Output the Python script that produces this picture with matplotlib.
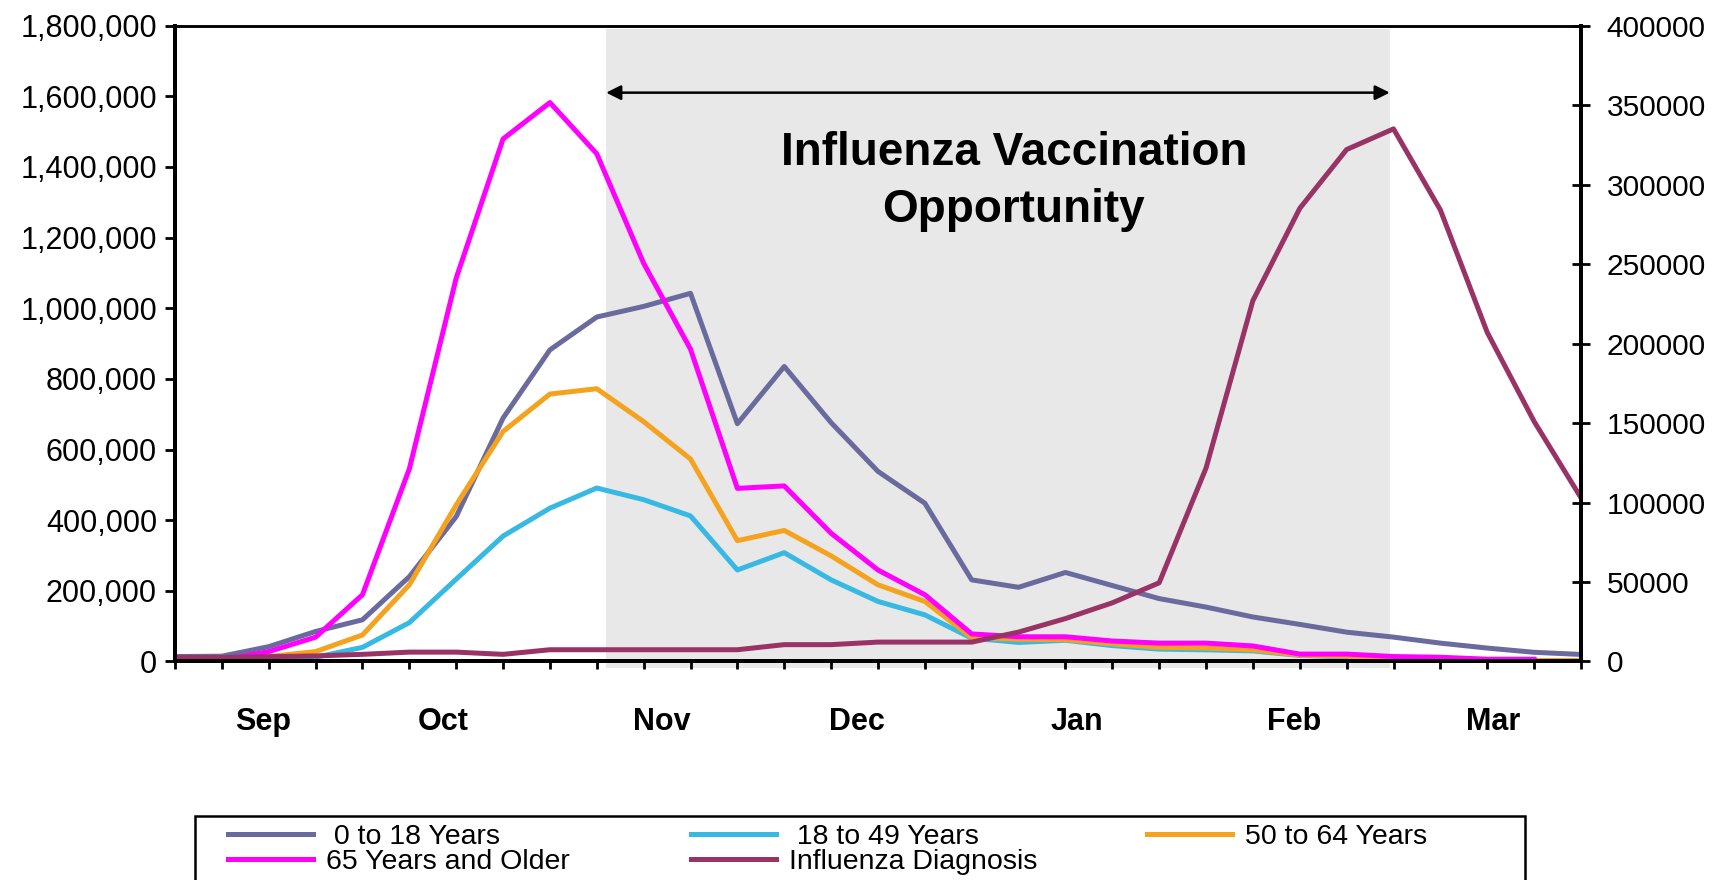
import matplotlib
matplotlib.use("Agg")
import matplotlib.pyplot as plt
from matplotlib.patches import Rectangle
from matplotlib.ticker import FuncFormatter

plt.rcParams['font.family'] = ['Liberation Sans', 'DejaVu Sans']

# weekly points, Sep .. Mar
weeks = list(range(31))
month_labels = ['Sep', 'Oct', 'Nov', 'Dec', 'Jan', 'Feb', 'Mar']
month_pos = [1.87, 5.73, 10.39, 14.56, 19.24, 23.87, 28.13]

age_0_18 = [14000, 15000, 42000, 85000, 118000, 240000, 410000, 689000, 882000, 975000,
            1005000, 1042000, 673000, 835000, 676000, 538000, 448000, 231000, 210000, 252000,
            215000, 178000, 154000, 126000, 105000, 83000, 69000, 52000, 38000, 26000, 20000]
age_18_49 = [0, 0, 4000, 12000, 40000, 110000, 233000, 355000, 434000, 491000,
             458000, 412000, 259000, 308000, 231000, 170000, 132000, 66000, 54000, 60000,
             45000, 35000, 33000, 30000, 17000, 13000, 9000, 6000, 4000, 3000, 2000]
age_50_64 = [0, 2000, 14000, 28000, 75000, 217000, 443000, 651000, 757000, 772000,
             679000, 573000, 342000, 371000, 299000, 217000, 170000, 68000, 63000, 62000,
             50000, 40000, 38000, 33000, 18000, 15000, 10000, 7000, 4000, 3000, 3000]
age_65_up = [3000, 5000, 28000, 69000, 189000, 545000, 1085000, 1479000, 1582000, 1437000,
             1127000, 884000, 490000, 497000, 363000, 259000, 189000, 78000, 70000, 70000,
             58000, 52000, 52000, 44000, 21000, 21000, 14000, 12000, 6500, 6500, float('nan')]
flu_diag = [2500, 2500, 3000, 3500, 4500, 5900, 5900, 4500, 7400, 7400,
            7400, 7400, 7400, 10600, 10600, 12200, 12200, 12200, 18500, 27000,
            36900, 49500, 121700, 227000, 285000, 322000, 335000, 284000, 207000, 151000, 103000]

W, H = 1719, 880
fig = plt.figure(figsize=(W / 100, H / 100), dpi=100)
ax = fig.add_axes([0.1018, 0.2483, 0.8179, 0.7227])
ax2 = ax.twinx()

ax.axvspan(9.2, 25.92, ymin=-0.011, ymax=0.994, color='#e8e8e8', lw=0, clip_on=False, zorder=0)

lw = 3.6
l0, = ax.plot(weeks, age_0_18, color='#6a6a9f', lw=lw, label=' 0 to 18 Years')
l1, = ax.plot(weeks, age_18_49, color='#37b9e3', lw=lw, label=' 18 to 49 Years')
l2, = ax.plot(weeks, age_50_64, color='#f5a21f', lw=lw, label='50 to 64 Years')
l3, = ax.plot(weeks, age_65_up, color='#ff00ff', lw=lw, label='65 Years and Older')
l4, = ax2.plot(weeks, flu_diag, color='#993366', lw=lw, label='Influenza Diagnosis')

ax.set_xlim(0, 30)
ax.set_ylim(0, 1800000)
ax2.set_ylim(0, 400000)
ax.set_yticks(range(0, 1800001, 200000))
ax2.set_yticks(range(0, 400001, 50000))
ax.yaxis.set_major_formatter(FuncFormatter(lambda v, p: '{:,.0f}'.format(v)))
ax2.yaxis.set_major_formatter(FuncFormatter(lambda v, p: '{:.0f}'.format(v)))

ax.set_xticks(weeks)
ax.set_xticklabels([])
ax.set_xticks(month_pos, minor=True)
ax.set_xticklabels(month_labels, minor=True, fontsize=22, fontweight='bold')
ax.tick_params(axis='x', which='major', direction='out', length=6, width=2)
ax.tick_params(axis='x', which='minor', length=0, pad=33)
ax.tick_params(axis='y', direction='out', length=7, width=2, labelsize=22, pad=6)
ax2.tick_params(axis='y', direction='inout', length=13, width=2, labelsize=21.5, pad=12)

for a in (ax, ax2):
    for s in ('left', 'right', 'bottom'):
        a.spines[s].set_linewidth(2.8)
    a.spines['top'].set_linewidth(1.8)

ax.annotate('', xy=(9.2, 1610000), xytext=(25.92, 1610000),
            arrowprops=dict(arrowstyle='<|-|>', color='black', lw=1.8, mutation_scale=22,
                            shrinkA=0, shrinkB=0))
ax.text(17.9, 1358000, 'Influenza Vaccination\nOpportunity', ha='center', va='center',
        fontsize=33, fontweight='bold', linespacing=1.4)

# legend frame, cut off by the bottom of the figure like the original
fig.patches.append(Rectangle((195 / W, -0.02), (1525 - 195) / W, 0.02 + 1 - 816 / H,
                             transform=fig.transFigure, fill=False, ec='black', lw=1.8))

cols = [([l0, l3], 228), ([l1, l4], 691), ([l2], 1147)]
for handles, x0 in cols:
    fig.legend(handles, [h.get_label() for h in handles], loc='upper left',
               bbox_to_anchor=(x0 / W, 1 - 824 / H), frameon=False, fontsize=20.5,
               handlelength=3.0, handletextpad=0.45, labelspacing=-0.02,
               borderpad=0, borderaxespad=0)

fig.savefig('out.png', dpi=100)
